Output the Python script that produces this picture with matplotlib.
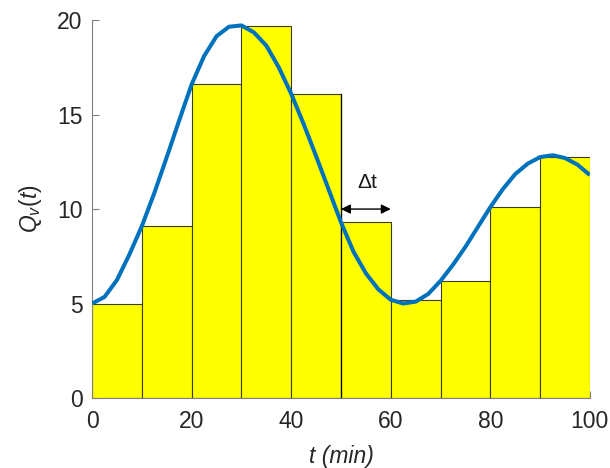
import numpy as np
import matplotlib
matplotlib.use("Agg")
import matplotlib.pyplot as plt

# bar data (left-endpoint values, width 10 min)
bar_t = [0, 10, 20, 30, 40, 50, 60, 70, 80, 90]
bar_q = [5.0, 9.1, 16.6, 19.7, 16.1, 9.3, 5.2, 6.2, 10.1, 12.75]

# curve every 2.5 min
curve_t = [0, 2.5, 5, 7.5, 10, 12.5, 15, 17.5, 20, 22.5, 25, 27.5, 30, 32.5,
           35, 37.5, 40, 42.5, 45, 47.5, 50, 52.5, 55, 57.5, 60, 62.5, 65,
           67.5, 70, 72.5, 75, 77.5, 80, 82.5, 85, 87.5, 90, 92.5, 95, 97.5, 100]
curve_q = [5.0, 5.35, 6.25, 7.6, 9.1, 10.85, 12.75, 14.7, 16.6, 18.1, 19.15, 19.65,
           19.72, 19.35, 18.65, 17.5, 16.1, 14.5, 12.8, 11.05, 9.3, 7.75, 6.6, 5.75,
           5.2, 5.0, 5.1, 5.5, 6.2, 7.05, 8.0, 9.05, 10.1, 11.05, 11.85, 12.4,
           12.75, 12.85, 12.7, 12.35, 11.8]

xticks = [0, 20, 40, 60, 80, 100]
yticks = [0, 5, 10, 15, 20]

plt.rcParams['font.family'] = ['Liberation Sans', 'DejaVu Sans']
plt.rcParams['mathtext.fontset'] = 'custom'
plt.rcParams['mathtext.rm'] = 'Liberation Sans'
plt.rcParams['mathtext.it'] = 'Liberation Sans:italic'

fig = plt.figure(figsize=(6.1, 4.68), dpi=100)
ax = fig.add_axes([0.151, 0.1496, 0.816, 0.8074])

ax.bar(bar_t, bar_q, width=10, align='edge', color='#FFFF00',
       edgecolor='#3c3c1e', linewidth=0.8, zorder=2)
ax.plot([bar_t[5], bar_t[5]], [0, bar_q[4]], color='black', lw=0.9, zorder=3)
ax.plot(curve_t, curve_q, color='#0072BD', lw=2.9, zorder=4,
        solid_joinstyle='round', solid_capstyle='butt')

# delta t annotation
ax.annotate('', xy=(bar_t[5], 10.0), xytext=(bar_t[6], 10.0),
            arrowprops=dict(arrowstyle='<|-|>', color='black', lw=1.0,
                            mutation_scale=14, shrinkA=0, shrinkB=0), zorder=5)
ax.text(55.2, 11.4, '\u0394t', ha='center', va='center', fontsize=15, color='#1a1a1a')

ax.set_xlim(0, 100)
ax.set_ylim(0, 20)
ax.set_xticks(xticks)
ax.set_yticks(yticks)
ax.tick_params(direction='in', length=5, width=0.8, colors='#808080',
               labelcolor='#262626', labelsize=16.5)
ax.tick_params(axis='x', pad=9)
ax.tick_params(axis='y', pad=7)
for s in ['top', 'right']:
    ax.spines[s].set_visible(False)
ax.spines['left'].set_color('#808080')
ax.spines['bottom'].set_color('#808080')

ax.set_xlabel('t (min)', fontsize=16.5, style='italic', color='#262626', labelpad=8)
ax.set_ylabel(r'$Q_v(t)$', fontsize=16.5, color='#262626', labelpad=9)

fig.savefig('out.png', dpi=100)
